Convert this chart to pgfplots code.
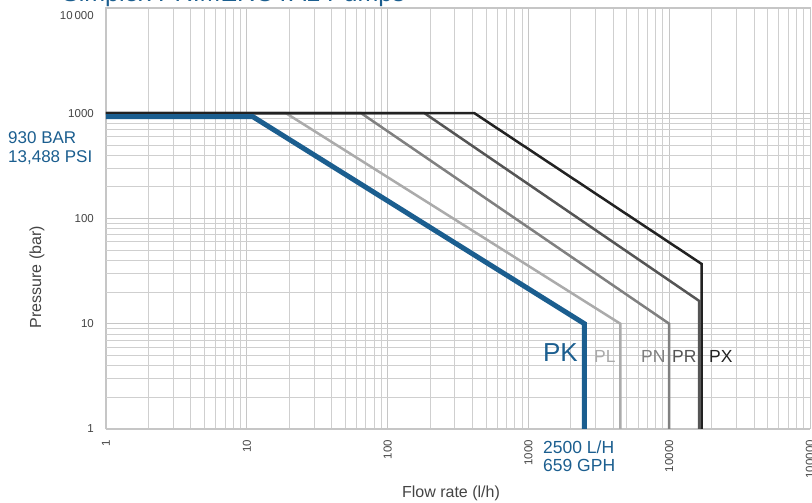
\documentclass[border=0pt]{standalone}
\usepackage{fontspec}
\setmainfont{Liberation Sans}
\usepackage{pgfplots}
\pgfplotsset{compat=1.18}

\definecolor{pkblue}{HTML}{1B5E8F}
\definecolor{plgray}{HTML}{ABABAB}
\definecolor{pngray}{HTML}{808080}
\definecolor{prgray}{HTML}{555555}
\definecolor{pxblack}{HTML}{222222}
\definecolor{gridc}{HTML}{C6C6C6}
\definecolor{txt}{HTML}{444444}

\begin{document}
\begin{tikzpicture}[x=1bp,y=1bp]
\begin{axis}[
  at={(0,0)}, anchor=south west,
  scale only axis, width=704bp, height=421bp,
  xmode=log, ymode=log,
  xmin=1, xmax=100000, ymin=1, ymax=10000,
  axis line style={gridc, line width=1bp},
  grid=both,
  major grid style={gridc, line width=0.9bp},
  minor grid style={gridc!85, line width=0.8bp},
  major tick length=0pt, minor tick length=0pt,
  xtick={1,10,100,1000,10000,100000},
  xticklabels={1,10,100,1000,10000,100000},
  ytick={1,10,100,1000},
  yticklabels={1,10,100,1000},
  extra y ticks={10000},
  extra y tick labels={10\,000},
  extra y tick style={yticklabel style={anchor=north east, yshift=-3bp}},
  ticklabel style={font=\fontsize{11.5bp}{13bp}\selectfont, text=txt, inner sep=0pt},
  xticklabel style={yshift=-11bp, rotate=90, anchor=east},
  yticklabel style={xshift=-12bp, anchor=east},
  xlabel={Flow rate (l/h)},
  ylabel={Pressure (bar)},
  every axis x label/.style={at={(axis description cs:0.49,-0.152)}, anchor=center,
    font=\fontsize{16bp}{18bp}\selectfont, text=txt},
  every axis y label/.style={at={(axis description cs:-0.098,0.361)}, rotate=90, anchor=center,
    font=\fontsize{16bp}{18bp}\selectfont, text=txt},
  clip=true,
]
  % PL
  \addplot[plgray, line width=2.5bp] coordinates {(1,1000) (19,1000) (4500,10) (4500,1)};
  % PN
  \addplot[pngray, line width=2.5bp] coordinates {(1,1000) (65,1000) (10000,10) (10000,1)};
  % PR
  \addplot[prgray, line width=2.5bp] coordinates {(1,1000) (183,1000) (16300,16.5) (16300,1)};
  % PX
  \addplot[pxblack, line width=2.5bp] coordinates {(1,1000) (414,1000) (17000,37) (17000,1)};
  % PK
  \addplot[pkblue, line width=5bp] coordinates {(1,930) (11,930) (2500,10) (2500,1)};
\end{axis}

% annotations (bp, origin at lower left of the plot area; base = last line)
\node[anchor=base west, align=left, text=pkblue, inner sep=0pt,
      font=\fontsize{17bp}{19bp}\selectfont] at (-98,266) {930 BAR\\13,488 PSI};
\node[anchor=base west, align=left, text=pkblue, inner sep=0pt,
      font=\fontsize{17.5bp}{18bp}\selectfont] at (437,-43) {2500 L/H\\659 GPH};
\node[anchor=base east, text=pkblue, inner sep=0pt, font=\fontsize{26bp}{28bp}\selectfont] at (472,67) {PK};
\node[anchor=base west, text=plgray, inner sep=0pt, font=\fontsize{17.5bp}{19bp}\selectfont] at (488,66) {PL};
\node[anchor=base west, text=pngray, inner sep=0pt, font=\fontsize{17.5bp}{19bp}\selectfont] at (535,66) {PN};
\node[anchor=base west, text=prgray, inner sep=0pt, font=\fontsize{17.5bp}{19bp}\selectfont] at (566,66) {PR};
\node[anchor=base west, text=pxblack, inner sep=0pt, font=\fontsize{17.5bp}{19bp}\selectfont] at (603,66) {PX};
\node[anchor=base west, text=pkblue, inner sep=0pt, font=\fontsize{25bp}{27bp}\selectfont] at (-44,427.5) {Simplex PRIMEROYAL Pumps};

\pgfresetboundingbox
\useasboundingbox (-106,-74) rectangle (706,429);
\end{tikzpicture}
\end{document}
